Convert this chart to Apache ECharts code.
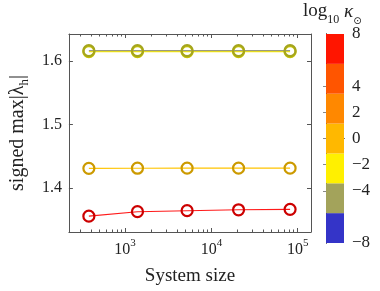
<!DOCTYPE html>
<html><head><meta charset="utf-8">
<script src="https://cdn.jsdelivr.net/npm/echarts@6/dist/echarts.min.js"></script>
<style>html,body{margin:0;padding:0;background:#fff}#c{width:380px;height:291px}</style>
</head><body><div id="c"></div>
<script>
// ---- data ----
const systemSizes = [380, 1390, 5230, 20650, 81700];
const seriesRed    = [1.356, 1.363, 1.3646, 1.366, 1.3667];   // log10 kappa ~ 7
const seriesOrange = [1.4313, 1.4315, 1.4316, 1.4316, 1.4316]; // log10 kappa ~ 0.5
const seriesYellow = [1.6152, 1.6152, 1.6152, 1.6152, 1.6152]; // log10 kappa ~ -2.5
const seriesOlive  = [1.6168, 1.6168, 1.6168, 1.6168, 1.6168]; // log10 kappa ~ -4.5
const xMajorTicks = [1e3, 1e4, 1e5];
const xMinorTicks = [300,400,500,600,700,800,900,2000,3000,4000,5000,6000,7000,8000,9000,20000,30000,40000,50000,60000,70000,80000,90000];
const yTicks = [1.4, 1.5, 1.6];
const cbarLabels = [-8, -4, -2, 0, 2, 4, 8];
const cbarTicks = [-4, -2, 0, 2, 4];
const cbarBandLow  = [-8, -5.714, -3.429, -1.143, 1.143, 3.429, 5.714];
const cbarBandHigh = [-5.714, -3.429, -1.143, 1.143, 3.429, 5.714, 8];
const cbarColors = ['#3434c8', '#a3a35b', '#fff000', '#ffb800', '#ff8800', '#ff5500', '#ff1500'];

const FONT = 'Liberation Serif, DejaVu Serif, serif';
const AX = '#555';
const chart = echarts.init(document.getElementById('c'), null, {renderer: 'canvas'});

function pairs(ys){ return systemSizes.map((x,i)=>[x, ys[i]]); }
function mkSeries(ys, lineColor, markColor, z){
  return {type:'line', xAxisIndex:0, yAxisIndex:0, data:pairs(ys), symbol:'circle', symbolSize:11,
    z:z, lineStyle:{color:lineColor, width:1.1}, itemStyle:{color:'rgba(0,0,0,0)', borderColor:markColor, borderWidth:2.2},
    emphasis:{disabled:true}, animation:false};
}
const bandData = cbarBandLow.map((lo,i)=>[lo, cbarBandHigh[i], i]);

const xMain = {gridIndex:0, type:'log', logBase:10, min:223, max:142800, splitLine:{show:false}};
const option = {
  animation:false,
  grid:[{left:57, top:34, width:254, height:209}, {left:326, top:34, width:18, height:209}],
  xAxis:[
    Object.assign({}, xMain, {position:'bottom', axisLine:{show:true, lineStyle:{color:AX}},
      axisTick:{show:true, inside:true, length:4, lineStyle:{color:AX}, customValues:xMajorTicks},
      axisLabel:{customValues:xMajorTicks, margin:6, color:'#222',
        formatter:function(v){return '{b|10}{e|'+Math.round(Math.log10(v))+'}';},
        rich:{b:{fontFamily:FONT, fontSize:16, color:'#222', lineHeight:20, verticalAlign:'bottom'},
              e:{fontFamily:FONT, fontSize:11, color:'#222', lineHeight:20, verticalAlign:'top'}}},
      name:'System size', nameLocation:'middle', nameGap:35,
      nameTextStyle:{fontFamily:FONT, fontSize:19, color:'#222'}}),
    Object.assign({}, xMain, {position:'bottom', axisLine:{show:false}, axisLabel:{show:false},
      axisTick:{show:true, inside:true, length:2.5, lineStyle:{color:AX}, customValues:xMinorTicks}}),
    Object.assign({}, xMain, {position:'top', axisLine:{show:true, lineStyle:{color:AX}}, axisLabel:{show:false},
      axisTick:{show:true, inside:true, length:4, lineStyle:{color:AX}, customValues:xMajorTicks}}),
    Object.assign({}, xMain, {position:'top', axisLine:{show:false}, axisLabel:{show:false},
      axisTick:{show:true, inside:true, length:2.5, lineStyle:{color:AX}, customValues:xMinorTicks}}),
    {gridIndex:1, type:'value', min:0, max:1, position:'bottom', axisLine:{show:true, lineStyle:{color:'#222'}},
      axisTick:{show:false}, axisLabel:{show:false}, splitLine:{show:false}},
    {gridIndex:1, type:'value', min:0, max:1, position:'top', axisLine:{show:true, lineStyle:{color:'#222'}},
      axisTick:{show:false}, axisLabel:{show:false}, splitLine:{show:false}}
  ],
  yAxis:[
    {gridIndex:0, type:'value', min:1.331, max:1.643, position:'left', splitLine:{show:false},
      axisLine:{show:true, lineStyle:{color:AX}},
      axisTick:{show:true, inside:true, length:4, lineStyle:{color:AX}, customValues:yTicks},
      axisLabel:{customValues:yTicks, margin:7, fontFamily:FONT, fontSize:16, color:'#222', formatter:v=>v.toFixed(1)},
      name:'{a|signed max|λ}{s|h}{a||}', nameLocation:'middle', nameGap:37, nameRotate:90,
      nameTextStyle:{rich:{a:{fontFamily:FONT, fontSize:20, color:'#222', lineHeight:23, verticalAlign:'top'},
                           s:{fontFamily:FONT, fontSize:13, color:'#222', lineHeight:23, verticalAlign:'bottom'}}}},
    {gridIndex:0, type:'value', min:1.331, max:1.643, position:'right', splitLine:{show:false},
      axisLine:{show:true, lineStyle:{color:AX}}, axisLabel:{show:false},
      axisTick:{show:true, inside:true, length:4, lineStyle:{color:AX}, customValues:yTicks}},
    {gridIndex:1, type:'value', min:-8, max:8, position:'right', splitLine:{show:false},
      axisLine:{show:true, lineStyle:{color:'#222'}},
      axisTick:{show:true, inside:true, length:3, lineStyle:{color:'#888'}, customValues:cbarTicks},
      axisLabel:{customValues:cbarLabels, margin:8, fontFamily:FONT, fontSize:17, color:'#222',
        formatter:v=> v<0 ? '\u2212'+(-v) : String(v)}},
    {gridIndex:1, type:'value', min:-8, max:8, position:'left', splitLine:{show:false},
      axisLine:{show:true, lineStyle:{color:'#222'}}, axisLabel:{show:false},
      axisTick:{show:true, inside:true, length:3, lineStyle:{color:'#888'}, customValues:cbarTicks}}
  ],
  series:[
    {type:'custom', xAxisIndex:4, yAxisIndex:2, data:bandData, z:1,
      renderItem:function(params, api){
        const p1 = api.coord([0, api.value(1)]);
        const p2 = api.coord([1, api.value(0)]);
        return {type:'rect', shape:{x:p1[0], y:p1[1], width:p2[0]-p1[0], height:p2[1]-p1[1]},
          style:{fill:cbarColors[api.value(2)]}};
      }},
    mkSeries(seriesRed, '#ff1a1a', '#cc0000', 3),
    mkSeries(seriesOrange, '#ffc400', '#cc9a00', 4),
    mkSeries(seriesYellow, '#fff000', '#c8c400', 5),
    mkSeries(seriesOlive, '#9a9a80', '#a5a51e', 6)
  ],
  graphic:[{type:'text', left:303, top:2, style:{
    text:'{a|log}{s|10}{a| }{k|κ}{o|⊙}',
    rich:{a:{fontFamily:FONT, fontSize:19, fill:'#222', lineHeight:24, verticalAlign:'top'},
          s:{fontFamily:FONT, fontSize:12, fill:'#222', lineHeight:24, verticalAlign:'bottom'},
          k:{fontFamily:FONT, fontSize:19, fontStyle:'italic', fill:'#222', lineHeight:24, verticalAlign:'top'},
          o:{fontFamily:'DejaVu Sans', fontSize:10, fill:'#222', lineHeight:24, verticalAlign:'bottom'}}}}]
};
chart.setOption(option);
</script></body></html>
